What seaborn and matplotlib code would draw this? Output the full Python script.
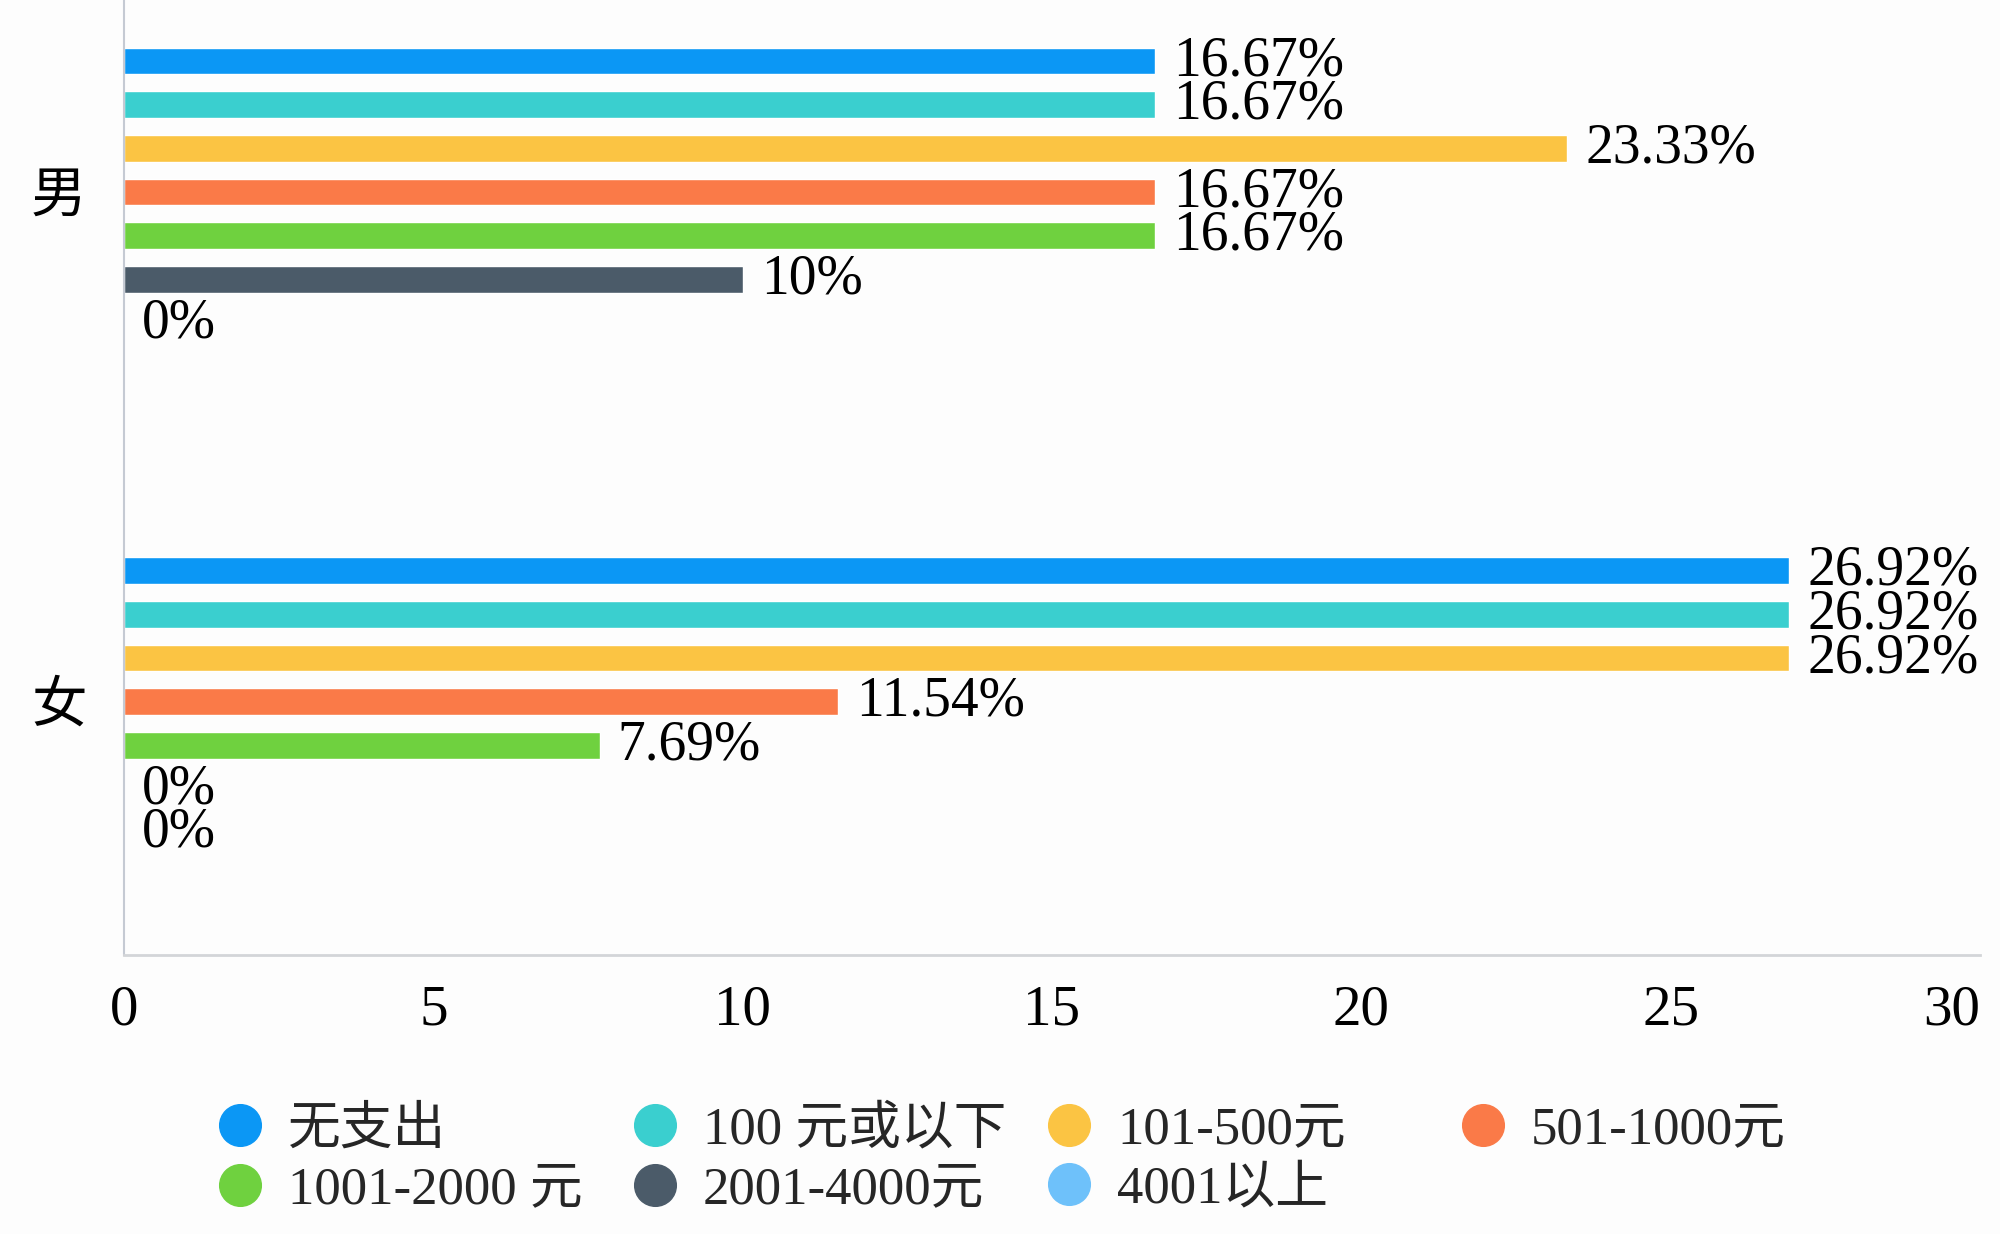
import matplotlib
matplotlib.use("Agg")
import matplotlib.pyplot as plt
from matplotlib.lines import Line2D
import seaborn as sns
import pandas as pd

# ---------------- data ----------------
genders = ["男", "女"]
spend_levels = ["无支出", "100 元或以下", "101-500元", "501-1000元",
                "1001-2000 元", "2001-4000元", "4001以上"]
male_values = [16.67, 16.67, 23.33, 16.67, 16.67, 10, 0]
female_values = [26.92, 26.92, 26.92, 11.54, 7.69, 0, 0]
colors = ["#0B97F5", "#3ACFCF", "#FBC443", "#FA7A48", "#6FD13F", "#4B5B69", "#6EC1FA"]
x_ticks = [0, 5, 10, 15, 20, 25, 30]

rows = []
for g, vals in zip(genders, [male_values, female_values]):
    for lvl, v in zip(spend_levels, vals):
        rows.append({"gender": g, "spend": lvl, "value": v})
df = pd.DataFrame(rows)

# ---------------- style ----------------
sns.set_style("white")
FAM = ["Liberation Serif", "Noto Sans CJK SC", "DejaVu Sans"]
plt.rcParams["font.family"] = FAM
BG = "#FDFDFD"

fig = plt.figure(figsize=(20, 12.34), dpi=100, facecolor=BG)
ax = fig.add_axes([0.062, 0.2261, 0.928, 0.7739])
ax.set_facecolor(BG)

sns.barplot(data=df, y="gender", x="value", hue="spend",
            order=genders, hue_order=spend_levels, palette=colors,
            orient="h", width=0.6, gap=0.39, errorbar=None,
            saturation=1, legend=False, ax=ax)

# value labels
for cont, lvl in zip(ax.containers, spend_levels):
    vals = df[df["spend"] == lvl].set_index("gender").loc[genders, "value"].tolist()
    ax.bar_label(cont, labels=[f"{v:g}%" for v in vals], padding=13,
                 fontsize=40, color="black", family=FAM)

ax.set_xlim(0, 30)
ax.set_ylim(1.497, -0.377)
ax.set_xticks(x_ticks)
ax.set_xticklabels([str(t) for t in x_ticks])
ax.xaxis.get_ticklabels()[-1].set_ha("right")
ax.set_xlabel("")
ax.set_ylabel("")
ax.tick_params(axis="x", length=0, pad=21, labelsize=41, labelcolor="black")
ax.tick_params(axis="y", length=0, pad=27, labelsize=40, labelcolor="black")

for s in ["top", "right"]:
    ax.spines[s].set_visible(False)
ax.spines["left"].set_color("#C5CAD3")
ax.spines["left"].set_linewidth(1.5)
ax.spines["bottom"].set_color("#D3D5D8")
ax.spines["bottom"].set_linewidth(2)

# ---------------- legend (row-wise order, 4 columns) ----------------
handles = [Line2D([], [], marker="o", linestyle="none", markersize=30,
                  markerfacecolor=c, markeredgecolor=c) for c in colors]
col_x_px = [214, 629, 1043, 1457]
W, H = 2000, 1234
for ci, xpx in enumerate(col_x_px):
    idx = [i for i in (ci, ci + 4) if i < len(spend_levels)]
    fig.legend([handles[i] for i in idx], [spend_levels[i] for i in idx],
               loc="upper left", bbox_to_anchor=(xpx / W, 1 - 1106 / H),
               frameon=False, handlelength=1.0,
               handletextpad=0.4, labelspacing=0.22, borderpad=0,
               borderaxespad=0, prop={"family": FAM, "size": 38})

fig.savefig("out.png", dpi=100, facecolor=BG)
